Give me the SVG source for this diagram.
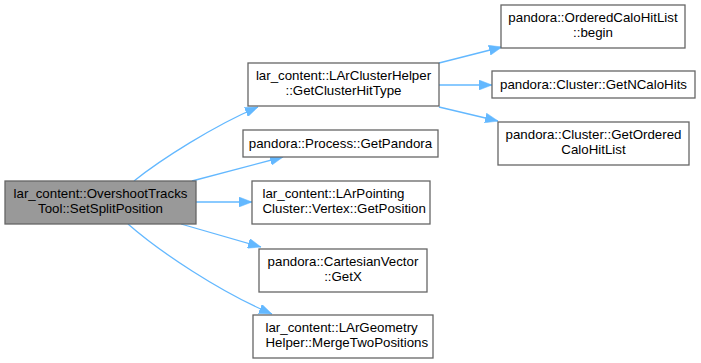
<svg xmlns="http://www.w3.org/2000/svg" width="701" height="363" viewBox="0 0 701 363">
  <style>
    .node rect { fill: #ffffff; stroke: #666666; stroke-width: 1.3; }
    .node.root rect { fill: #999999; }
    .node text { font-family: "Liberation Sans", Arial, sans-serif; font-size: 13.3px; fill: #000000; }
    .c { text-anchor: middle; }
    .l { text-anchor: start; }
    .edges path { fill: none; stroke: #63b8ff; stroke-width: 1.3; marker-end: url(#arrow); }
  </style>
  <defs>
    <marker id="arrow" markerUnits="userSpaceOnUse" viewBox="0 0 13 10" markerWidth="13" markerHeight="10" refX="13" refY="5" orient="auto">
      <path d="M0,0 L13,5 L0,10 z" fill="#63b8ff" stroke="#63b8ff" stroke-width="0.5"/>
    </marker>
  </defs>
  <rect width="701" height="363" fill="#ffffff"/>

  <g class="edges">
    <path d="M134,181 C160,160 215,125 258,107"/>
    <path d="M192,181 L283,157"/>
    <path d="M196,202 L252,202"/>
    <path d="M181,224 L261,247"/>
    <path d="M128,224 C160,252 220,292 272,314"/>
    <path d="M439,63 L502,47"/>
    <path d="M439,85 L492,85"/>
    <path d="M439,107 L498,121"/>
  </g>

  <g id="node-SetSplitPosition" class="node root">
    <rect x="5" y="181" width="191" height="43"/>
    <text class="c" x="100.5" y="198">lar_content::OvershootTracks</text>
    <text class="c" x="100.5" y="213">Tool::SetSplitPosition</text>
  </g>
  <g id="node-GetClusterHitType" class="node">
    <rect x="248" y="63" width="191" height="43"/>
    <text class="c" x="343.5" y="80">lar_content::LArClusterHelper</text>
    <text class="c" x="343.5" y="95">::GetClusterHitType</text>
  </g>
  <g id="node-OrderedCaloHitList-begin" class="node">
    <rect x="501" y="5" width="184" height="43"/>
    <text class="c" x="593" y="22">pandora::OrderedCaloHitList</text>
    <text class="c" x="593" y="37">::begin</text>
  </g>
  <g id="node-GetNCaloHits" class="node">
    <rect x="492" y="71" width="203" height="27"/>
    <text class="c" x="593.5" y="89">pandora::Cluster::GetNCaloHits</text>
  </g>
  <g id="node-GetOrderedCaloHitList" class="node">
    <rect x="498" y="122" width="191" height="43"/>
    <text class="c" x="593.5" y="139">pandora::Cluster::GetOrdered</text>
    <text class="c" x="593.5" y="154">CaloHitList</text>
  </g>
  <g id="node-GetPandora" class="node">
    <rect x="243" y="130" width="195" height="27"/>
    <text class="c" x="340.5" y="148">pandora::Process::GetPandora</text>
  </g>
  <g id="node-GetPosition" class="node">
    <rect x="252" y="181" width="178" height="43"/>
    <text class="l" x="262.5" y="198">lar_content::LArPointing</text>
    <text class="l" x="262.5" y="213">Cluster::Vertex::GetPosition</text>
  </g>
  <g id="node-GetX" class="node">
    <rect x="259" y="249" width="168" height="43"/>
    <text class="c" x="343" y="266">pandora::CartesianVector</text>
    <text class="c" x="343" y="281">::GetX</text>
  </g>
  <g id="node-MergeTwoPositions" class="node">
    <rect x="253" y="315" width="180" height="43"/>
    <text class="l" x="265.5" y="332">lar_content::LArGeometry</text>
    <text class="l" x="265.5" y="347">Helper::MergeTwoPositions</text>
  </g>
</svg>
